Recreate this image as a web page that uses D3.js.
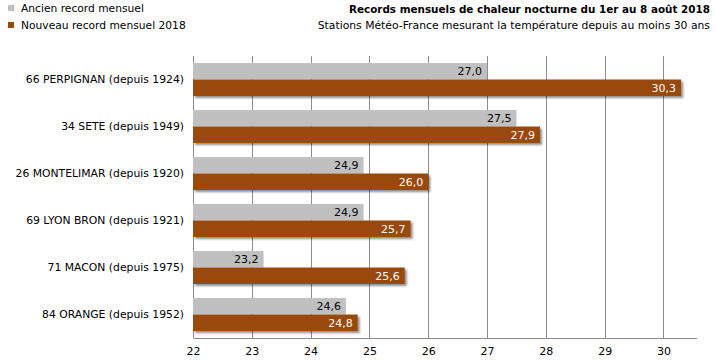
<!DOCTYPE html>
<html>
<head>
<meta charset="utf-8">
<script src="https://cdn.jsdelivr.net/npm/d3@7"></script>
<style>
    body { margin: 0; background: #fff; }
    svg { font-family: "DejaVu Sans", Verdana, sans-serif; }
</style>
</head>
<body>
<svg id="chart" width="715" height="360"></svg>
<script>
// data
var stations = ["66 PERPIGNAN (depuis 1924)", "34 SETE (depuis 1949)", "26 MONTELIMAR (depuis 1920)",
    "69 LYON BRON (depuis 1921)", "71 MACON (depuis 1975)", "84 ORANGE (depuis 1952)"];
var ancienRecord = [27.0, 27.5, 24.9, 24.9, 23.2, 24.6];
var nouveauRecord = [30.3, 27.9, 26.0, 25.7, 25.6, 24.8];
var xTicks = [22, 23, 24, 25, 26, 27, 28, 29, 30];
var seriesNames = ["Ancien record mensuel", "Nouveau record mensuel 2018"];

var svg = d3.select("#chart");
var margin = {top: 56, left: 193, right: 18, bottom: 22};
var width = 715 - margin.left - margin.right;
var height = 360 - margin.top - margin.bottom;

var grey = "#c0c0c0";
var brown = "#994a07";

// shadow for the brown bars
var defs = svg.append("defs");
var filter = defs.append("filter").attr("id", "shadow")
    .attr("x", "-5%").attr("y", "-20%").attr("width", "115%").attr("height", "160%");
filter.append("feDropShadow")
    .attr("dx", 2).attr("dy", 2).attr("stdDeviation", 1.2)
    .attr("flood-color", "#000").attr("flood-opacity", 0.45);

var xScale = d3.scaleLinear().domain([22, 30.57]).range([0, width]);
var yScale = d3.scaleBand().domain(stations).range([0, height]).paddingInner(0.3).paddingOuter(0.15);

var fmt = function (v) { return d3.format(".1f")(v).replace(".", ","); };

var g = svg.append("g")
    .attr("transform", "translate(" + margin.left + "," + margin.top + ")");

// grid lines
g.append("g")
    .attr("class", "grid")
    .selectAll("line")
    .data(xTicks)
    .enter()
    .append("line")
    .attr("x1", function (d) { return Math.round(xScale(d)) + 0.5; })
    .attr("x2", function (d) { return Math.round(xScale(d)) + 0.5; })
    .attr("y1", 0)
    .attr("y2", height)
    .attr("stroke", "#8c8c8c")
    .attr("stroke-width", 1);

// x axis
var xAxis = g.append("g")
    .attr("transform", "translate(0," + height + ")")
    .call(d3.axisBottom(xScale).tickValues(xTicks).tickSize(0).tickPadding(9).tickFormat(d3.format("d")));
xAxis.select(".domain").attr("stroke", "#8c8c8c").attr("d", "M0.5,0.5H" + width);
xAxis.selectAll("text").attr("font-size", "11px").attr("fill", "#000").attr("font-family", "DejaVu Sans");

var barH = yScale.bandwidth() / 2;

var rows = g.selectAll(".row")
    .data(stations)
    .enter()
    .append("g")
    .attr("class", "row")
    .attr("transform", function (d) { return "translate(0," + yScale(d) + ")"; });

// grey bars (ancien)
rows.append("rect")
    .attr("x", 0)
    .attr("y", 0)
    .attr("width", function (d, i) { return xScale(ancienRecord[i]); })
    .attr("height", barH)
    .attr("fill", grey);

rows.append("text")
    .attr("x", function (d, i) { return xScale(ancienRecord[i]) - 5; })
    .attr("y", barH / 2)
    .attr("dy", "0.35em")
    .attr("text-anchor", "end")
    .attr("font-size", "11px")
    .attr("fill", "#000")
    .text(function (d, i) { return fmt(ancienRecord[i]); });

// brown bars (nouveau)
rows.append("rect")
    .attr("x", 0)
    .attr("y", barH)
    .attr("width", function (d, i) { return xScale(nouveauRecord[i]); })
    .attr("height", barH)
    .attr("fill", brown)
    .attr("filter", "url(#shadow)");

rows.append("text")
    .attr("x", function (d, i) { return xScale(nouveauRecord[i]) - 5; })
    .attr("y", barH * 1.5)
    .attr("dy", "0.35em")
    .attr("text-anchor", "end")
    .attr("font-size", "11px")
    .attr("fill", "#fff")
    .text(function (d, i) { return fmt(nouveauRecord[i]); });

// category labels
g.append("g")
    .selectAll("text")
    .data(stations)
    .enter()
    .append("text")
    .attr("x", -9)
    .attr("y", function (d) { return yScale(d) + yScale.bandwidth() / 2; })
    .attr("dy", "0.35em")
    .attr("text-anchor", "end")
    .attr("font-size", "10.8px")
    .attr("fill", "#000")
    .text(function (d) { return d; });

// legend
var legend = svg.append("g").attr("transform", "translate(8,5)");
legend.selectAll("rect")
    .data(seriesNames)
    .enter()
    .append("rect")
    .attr("x", 0)
    .attr("y", function (d, i) { return i * 17; })
    .attr("width", 6)
    .attr("height", 6)
    .attr("fill", function (d, i) { return i === 0 ? grey : brown; });
legend.selectAll("text")
    .data(seriesNames)
    .enter()
    .append("text")
    .attr("x", 13)
    .attr("y", function (d, i) { return i * 17 + 3; })
    .attr("dy", "0.35em")
    .attr("font-size", "10.7px")
    .attr("fill", "#000")
    .text(function (d) { return d; });

// title
svg.append("text")
    .attr("x", 710)
    .attr("y", 13)
    .attr("text-anchor", "end")
    .attr("font-size", "10.4px")
    .attr("font-weight", "bold")
    .attr("fill", "#000")
    .text("Records mensuels de chaleur nocturne du 1er au 8 août 2018");
svg.append("text")
    .attr("x", 710)
    .attr("y", 29)
    .attr("text-anchor", "end")
    .attr("font-size", "10.8px")
    .attr("fill", "#000")
    .text("Stations Météo-France mesurant la température depuis au moins 30 ans");
</script>
</body>
</html>
